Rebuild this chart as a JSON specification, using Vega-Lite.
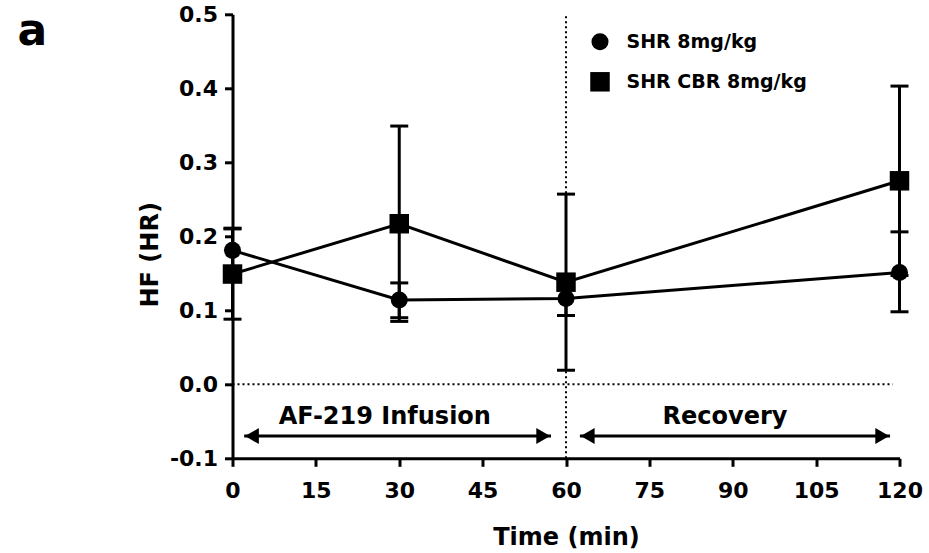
{
  "$schema": "https://vega.github.io/schema/vega-lite/v6.json",
  "width": 667,
  "height": 444,
  "autosize": {"type": "none"},
  "padding": {"left": 232.5, "top": 14.3, "right": 29.5, "bottom": 94.7},
  "background": "white",
  "title": {"text": "a", "anchor": "start", "frame": "group", "orient": "top", "fontSize": 44, "fontWeight": "bold", "font": "DejaVu Sans", "color": "black", "dx": -215, "dy": 51, "offset": 0},
  "config": {
    "view": {"stroke": null},
    "axis": {
      "domainColor": "black", "domainWidth": 3, "tickColor": "black", "tickWidth": 3, "tickSize": 8,
      "labelFont": "DejaVu Sans", "labelFontWeight": "bold", "labelFontSize": 22, "labelColor": "black",
      "labelFlush": false, "labelOverlap": false,
      "titleFont": "DejaVu Sans", "titleFontWeight": "bold", "titleFontSize": 24, "titleColor": "black",
      "grid": false
    }
  },
  "datasets": {
    "hf": [
      {"t": 0, "series": "SHR 8mg/kg", "v": 0.181, "lo": 0.151, "hi": 0.211},
      {"t": 30, "series": "SHR 8mg/kg", "v": 0.114, "lo": 0.090, "hi": 0.137},
      {"t": 60, "series": "SHR 8mg/kg", "v": 0.116, "lo": 0.093, "hi": 0.139},
      {"t": 120, "series": "SHR 8mg/kg", "v": 0.151, "lo": 0.098, "hi": 0.206},
      {"t": 0, "series": "SHR CBR 8mg/kg", "v": 0.149, "lo": 0.088, "hi": 0.210},
      {"t": 30, "series": "SHR CBR 8mg/kg", "v": 0.217, "lo": 0.085, "hi": 0.349},
      {"t": 60, "series": "SHR CBR 8mg/kg", "v": 0.138, "lo": 0.019, "hi": 0.257},
      {"t": 120, "series": "SHR CBR 8mg/kg", "v": 0.275, "lo": 0.147, "hi": 0.403}
    ],
    "guides": [
      {"t": 0, "t2": 118.8, "v": 0, "v2": 0},
      {"t": 60, "t2": 60, "v": -0.1, "v2": 0.5}
    ],
    "arrows": [
      {"t": 2.1, "t2": 57.3, "v": -0.07},
      {"t": 62.5, "t2": 118.3, "v": -0.07}
    ],
    "leftHeads": [{"t": 3.5, "v": -0.07}, {"t": 63.9, "v": -0.07}],
    "rightHeads": [{"t": 55.9, "v": -0.07}, {"t": 116.9, "v": -0.07}],
    "labels": [
      {"t": 27.4, "v": -0.044, "label": "AF-219 Infusion"},
      {"t": 88.6, "v": -0.044, "label": "Recovery"}
    ]
  },
  "encoding": {
    "x": {"field": "t", "type": "quantitative", "scale": {"domain": [0, 120], "nice": false, "zero": false},
      "axis": {"values": [0, 15, 30, 45, 60, 75, 90, 105, 120], "title": "Time (min)", "labelPadding": 14, "titlePadding": 24}},
    "y": {"field": "v", "type": "quantitative", "scale": {"domain": [-0.1, 0.5], "nice": false, "zero": false},
      "axis": {"values": [-0.1, 0, 0.1, 0.2, 0.3, 0.4, 0.5], "format": ".1f", "labelExpr": "replace(datum.label, '\u2212', '-')", "title": "HF (HR)", "labelPadding": 7, "titleX": -70, "titleY": 240}}
  },
  "layer": [
    {
      "data": {"name": "guides"},
      "mark": {"type": "rule", "color": "black", "strokeWidth": 2, "strokeDash": [2, 3]},
      "encoding": {"x2": {"field": "t2"}, "y2": {"field": "v2"}}
    },
    {
      "data": {"name": "hf"},
      "mark": {"type": "rule", "color": "black", "strokeWidth": 3},
      "encoding": {"y": {"field": "lo", "type": "quantitative", "title": "HF (HR)"}, "y2": {"field": "hi"}}
    },
    {
      "data": {"name": "hf"},
      "transform": [{"fold": ["lo", "hi"], "as": ["k", "v"]}],
      "mark": {"type": "tick", "orient": "horizontal", "color": "black", "opacity": 1, "size": 18, "thickness": 3}
    },
    {
      "data": {"name": "hf"},
      "mark": {"type": "line", "color": "black", "strokeWidth": 3},
      "encoding": {"detail": {"field": "series", "type": "nominal"}}
    },
    {
      "data": {"name": "hf"},
      "mark": {"type": "point", "filled": true, "opacity": 1, "color": "black"},
      "encoding": {
        "shape": {"field": "series", "type": "nominal", "scale": {"domain": ["SHR 8mg/kg", "SHR CBR 8mg/kg"], "range": ["circle", "square"]},
          "legend": {"orient": "none", "legendX": 357, "legendY": 18, "title": null, "labelFont": "DejaVu Sans", "labelFontWeight": "bold", "labelFontSize": 19, "labelColor": "black", "labelLimit": 0, "rowPadding": 14, "labelOffset": 16, "symbolFillColor": "black", "symbolStrokeColor": "black"}},
        "size": {"field": "series", "type": "nominal", "scale": {"domain": ["SHR 8mg/kg", "SHR CBR 8mg/kg"], "range": [290, 380]}}
      }
    },
    {
      "data": {"name": "arrows"},
      "mark": {"type": "rule", "color": "black", "strokeWidth": 3},
      "encoding": {"x2": {"field": "t2"}}
    },
    {
      "data": {"name": "leftHeads"},
      "mark": {"type": "point", "shape": "triangle-left", "filled": true, "opacity": 1, "color": "black", "size": 256}
    },
    {
      "data": {"name": "rightHeads"},
      "mark": {"type": "point", "shape": "triangle-right", "filled": true, "opacity": 1, "color": "black", "size": 256}
    },
    {
      "data": {"name": "labels"},
      "mark": {"type": "text", "font": "DejaVu Sans", "fontWeight": "bold", "fontSize": 24, "color": "black"},
      "encoding": {"text": {"field": "label"}}
    }
  ]
}
